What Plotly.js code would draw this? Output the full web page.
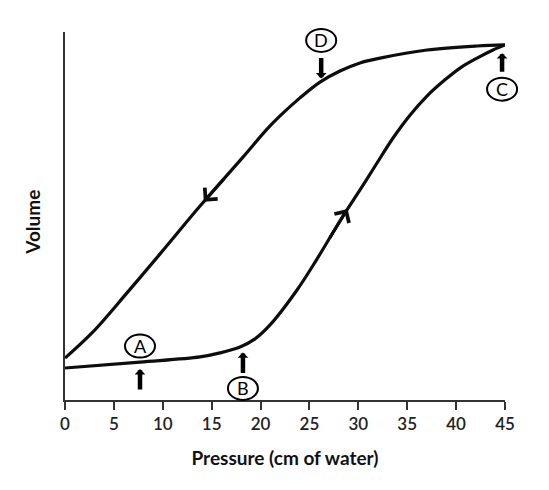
<!DOCTYPE html>
<html>
<head>
<meta charset="utf-8">
<script src="https://cdn.plot.ly/plotly-3.0.1.min.js"></script>
<style>
  html, body { margin: 0; padding: 0; background: #ffffff; }
  #chart { width: 549px; height: 490px; }
</style>
</head>
<body>
<div id="chart"></div>
<script>
// Pressure-volume loop of the lung: inflation (lower limb) and deflation (upper limb)
const inflatePressure = [0, 7.67, 13.81, 15.85, 17.9, 19.43, 20.97, 23.73, 25.77, 28.43, 30.17, 31.91, 33.55, 35.28, 37.02, 38.86, 40.4, 42.14, 43.77, 45];
const inflateVolume   = [8.7, 10.3, 11.7, 12.8, 14.4, 16.6, 20.4, 29.9, 38.3, 50.0, 57.1, 64.4, 71.2, 77.4, 82.6, 87.0, 90.2, 92.9, 95.1, 96.5];

const deflatePressure = [0, 2.86, 6.34, 9.72, 13.81, 18.2, 20.66, 21.99, 24.03, 26.08, 28.12, 30.17, 32.22, 37.02, 42.14, 45];
const deflateVolume   = [11.4, 18.5, 29.1, 39.7, 52.7, 66.0, 73.6, 77.2, 82.1, 86.4, 89.4, 91.6, 92.9, 95.1, 96.2, 96.5];

const xTickValues = [0, 5, 10, 15, 20, 25, 30, 35, 40, 45];
const xTickLabels = ['0', '5', '10', '15', '20', '25', '30', '35', '40', '45'];

// Labelled points on the loop: letter, limb it sits on, pressure
const pointLabels   = ['A', 'B', 'C', 'D'];
const pointLimb     = ['inflate', 'inflate', 'inflate', 'deflate'];
const pointPressure = [7.67, 18.2, 44.7, 26.2];

// Direction markers along each limb: [from pressure, to pressure]
const inflateDirection = [27.0, 28.9];
const deflateDirection = [16.4, 14.2];

const X_RANGE = [0, 45];
const Y_RANGE = [0, 100];

function volumeAt(limb, p) {
  const xs = limb === 'inflate' ? inflatePressure : deflatePressure;
  const ys = limb === 'inflate' ? inflateVolume : deflateVolume;
  for (let i = 1; i < xs.length; i++) {
    if (p <= xs[i]) {
      const t = (p - xs[i - 1]) / (xs[i] - xs[i - 1]);
      return ys[i - 1] + t * (ys[i] - ys[i - 1]);
    }
  }
  return ys[ys.length - 1];
}
// data -> paper fractions (so the outlines are not clipped at the plot edge)
const toPaperX = p => (p - X_RANGE[0]) / (X_RANGE[1] - X_RANGE[0]);
const toPaperY = v => (v - Y_RANGE[0]) / (Y_RANGE[1] - Y_RANGE[0]);

const FONT = 'Lato, "Open Sans", sans-serif';
const lineStyle = { color: '#0d0d0d', width: 3.2, shape: 'spline', smoothing: 1 };

const traces = [
  { x: inflatePressure, y: inflateVolume, mode: 'lines', line: lineStyle, cliponaxis: false, hoverinfo: 'skip' },
  { x: deflatePressure, y: deflateVolume, mode: 'lines', line: lineStyle, cliponaxis: false, hoverinfo: 'skip' }
];

// Placement of circle + pointer for each letter (pixels, up is positive)
const labelStyle = {
  A: { circleDy: 16, arrowDir: -1, arrowLen: 29, standoff: 7 },
  B: { circleDy: -43, arrowDir: -1, arrowLen: 29, standoff: 7 },
  C: { circleDy: -43, arrowDir: -1, arrowLen: 27, standoff: 7 },
  D: { circleDy: 41, arrowDir: 1, arrowLen: 25, standoff: 3 }
};

const annotations = [];
const shapes = [];

pointLabels.forEach((lab, i) => {
  const p = pointPressure[i];
  const v = volumeAt(pointLimb[i], p);
  const st = labelStyle[lab];
  // pointer arrow towards the curve
  annotations.push({
    x: p, y: v, xref: 'x', yref: 'y', text: '', showarrow: true,
    ax: 0, ay: -st.arrowDir * st.arrowLen, standoff: st.standoff,
    arrowhead: 1, arrowsize: 0.4, arrowwidth: 4.5, arrowcolor: '#000'
  });
  // the letter
  annotations.push({
    x: p, y: v, xref: 'x', yref: 'y', text: lab, showarrow: false,
    yshift: st.circleDy, xanchor: 'center', yanchor: 'middle',
    font: { family: FONT, size: 18, color: '#000' }
  });
  // the circle round it
  shapes.push({
    type: 'circle', xref: 'paper', yref: 'paper', xsizemode: 'pixel', ysizemode: 'pixel',
    xanchor: toPaperX(p), yanchor: toPaperY(v),
    x0: -15, x1: 15, y0: st.circleDy - 11.5, y1: st.circleDy + 11.5,
    line: { color: '#000', width: 2 }, fillcolor: 'rgba(0,0,0,0)'
  });
});

// direction chevrons on both limbs
[['inflate', inflateDirection], ['deflate', deflateDirection]].forEach(([limb, d]) => {
  annotations.push({
    x: d[1], y: volumeAt(limb, d[1]), ax: d[0], ay: volumeAt(limb, d[0]),
    xref: 'x', yref: 'y', axref: 'x', ayref: 'y',
    text: '', showarrow: true, arrowhead: 4, arrowsize: 1.1, arrowwidth: 3, arrowcolor: '#0d0d0d'
  });
});

// y-axis title
annotations.push({
  x: -0.073, y: 0.484, xref: 'paper', yref: 'paper', text: '<b>Volume</b>',
  textangle: -90, showarrow: false, xanchor: 'center', yanchor: 'middle',
  font: { family: FONT, size: 19, color: '#111' }
});

const layout = {
  width: 549, height: 490,
  margin: { l: 65, r: 44, t: 32, b: 90 },
  paper_bgcolor: '#ffffff', plot_bgcolor: '#ffffff',
  showlegend: false,
  xaxis: {
    range: X_RANGE, tickmode: 'array', tickvals: xTickValues, ticktext: xTickLabels,
    showgrid: false, zeroline: false, showline: true, linecolor: '#333', linewidth: 2,
    ticks: 'outside', ticklen: 8, tickwidth: 2, tickcolor: '#333',
    tickfont: { family: FONT, size: 17, color: '#222', weight: 600 },
    title: { text: '<b>Pressure (cm of water)</b>', standoff: 18,
             font: { family: FONT, size: 19, color: '#111' } },
    fixedrange: true
  },
  yaxis: {
    range: Y_RANGE, showgrid: false, zeroline: false, showline: true,
    linecolor: '#333', linewidth: 2, ticks: '', showticklabels: false, fixedrange: true
  },
  annotations: annotations,
  shapes: shapes
};

Plotly.newPlot('chart', traces, layout, { staticPlot: true, displayModeBar: false });
</script>
</body>
</html>
